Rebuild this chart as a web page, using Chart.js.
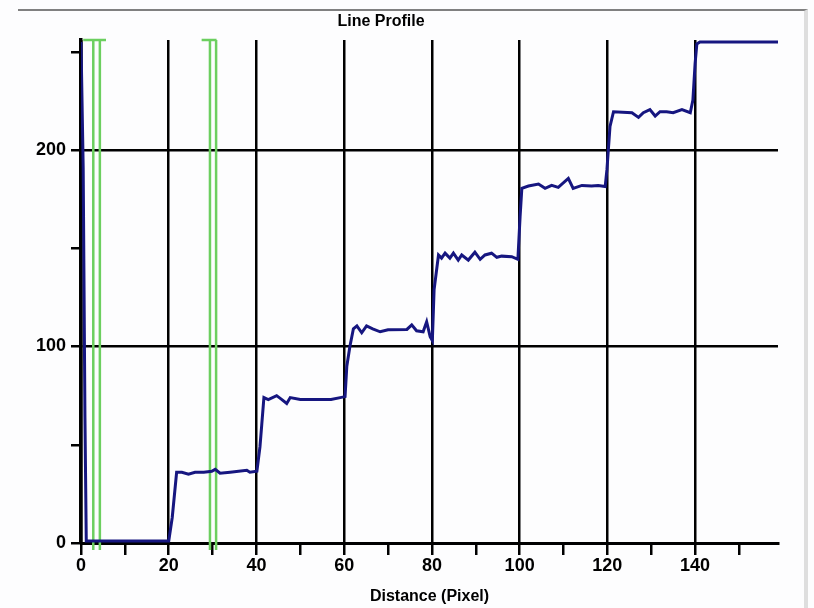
<!DOCTYPE html>
<html>
<head>
<meta charset="utf-8">
<script src="https://cdn.jsdelivr.net/npm/chart.js@4"></script>
<style>
  body { margin: 0; background: #fdfdfe; }
  #wrap { position: relative; width: 814px; height: 608px; }
  #frame { position: absolute; left: 18px; top: 9px; width: 786px; height: 599px;
           border-top: 2px solid #808080; border-right: 4px solid #dedede; }
  #title { position: absolute; left: 0; top: 13px; width: 762px; text-align: center;
           font: bold 16px "Liberation Sans", Arial, sans-serif; line-height: 16px; color: #000; }
  canvas { position: absolute; left: 0; top: 0; }
</style>
</head>
<body>
<div id="wrap">
  <div id="frame"></div>
  <canvas id="profile" width="814" height="608"></canvas>
  <div id="title">Line Profile</div>
</div>
<script>
// distance along the line (pixel) and grey value
const distance = [0, 0.5, 0.9, 1.2, 20, 20.8, 21.8, 23.0, 24.5, 26, 28, 29.8, 30.6, 31.7, 34, 37.8, 38.5,
  40.1, 40.8, 41.2, 41.7, 42.7, 44.6, 45.8, 46.9, 47.7, 50, 53.7, 57, 59.1, 60.2,
  60.6, 61.3, 62.1, 62.9, 64.0, 65.1, 66.5, 68.2, 70, 74.3, 75.4, 76.5, 78.0, 78.8, 79.6, 80.1,
  80.5, 81.5, 82.2, 83.0, 84.1, 84.9, 86.0, 86.8, 88.3, 89.8, 91.0, 92.1, 93.6, 94.8, 95.9, 98.2, 99.6,
  100.1, 100.5, 102.0, 104.3, 105.8, 107.3, 108.8, 111.1, 112.2, 114.2, 116.4, 117.9, 119.5,
  119.9, 120.6, 121.4, 125.6, 127.1, 128.2, 129.7, 130.9, 132.0, 133.5, 135.0, 137.0, 138.9,
  139.5, 140.0, 140.4, 141.1, 158.9];
const greyValue = [255, 191, 64, 1, 1, 13, 36, 36, 35, 36, 36, 36.5, 37.5, 35.5, 36, 37, 36,
  36.5, 49, 60, 74, 73, 75, 73, 71, 74, 73, 73, 73, 74, 74.5,
  90, 100, 109, 110.5, 107, 110.5, 109, 107.5, 108.5, 108.7, 111, 108, 107.5, 112.6, 105, 103,
  129, 146.6, 145, 147.5, 145, 147.5, 144, 146.6, 144, 148, 144.4, 146.6, 147.5, 145.4, 146, 145.7, 144.4,
  166, 180.5, 181.7, 182.7, 180.5, 182, 181, 185.6, 180.5, 182, 181.7, 182, 181.4,
  190, 212, 219.5, 219, 216.6, 219, 220.6, 217.3, 219.5, 219.5, 219, 220.6, 219,
  225.4, 244, 254, 255, 255];

// green cursor markers: vertical lines and the bar across their tops
const markerLines = [2.8, 4.3, 29.4, 30.8];
const markerBars = [[0.5, 5.7], [27.5, 30.9]];
const markerBottom = -3.6;
const markerTop = 256;

const profilePoints = distance.map((d, i) => ({ x: d, y: greyValue[i] }));

const markerPoints = [];
markerLines.forEach(m => {
  markerPoints.push({ x: m, y: markerBottom }, { x: m, y: markerTop }, { x: m, y: null });
});
markerBars.forEach(b => {
  markerPoints.push({ x: b[0], y: markerTop }, { x: b[1], y: markerTop }, { x: b[1], y: null });
});

const labelFont = { family: '"Liberation Sans", Arial, sans-serif', size: 18, weight: 'bold' };

const profileChart = new Chart(document.getElementById('profile'), {
  type: 'scatter',
  data: {
    datasets: [{
      label: 'Profile',
      data: profilePoints,
      showLine: true,
      borderColor: '#161680',
      borderWidth: 3,
      pointRadius: 0,
      tension: 0,
    }, {
      label: 'Cursors',
      data: markerPoints,
      showLine: true,
      spanGaps: false,
      borderColor: '#6ccf5f',
      borderWidth: 2.5,
      pointRadius: 0,
      clip: false,
    }]
  },
  options: {
    responsive: false,
    animation: false,
    devicePixelRatio: 1,
    layout: { padding: { top: 40, right: 36, left: 0, bottom: 0 } },
    plugins: {
      legend: { display: false },
      tooltip: { enabled: false },
    },
    scales: {
      x: {
        type: 'linear',
        min: 0,
        max: 158.9,
        afterFit: axis => { axis.height = 65; },
        border: { display: true, color: '#000', width: 3 },
        grid: {
          color: ctx => (ctx.tick && ctx.tick.value % 20 === 0 ? '#000' : 'rgba(0,0,0,0)'),
          lineWidth: 2.5,
          tickColor: '#000',
          tickWidth: 2.5,
          tickLength: 12,
        },
        ticks: {
          stepSize: 10,
          includeBounds: false,
          autoSkip: false,
          maxRotation: 0,
          padding: 0,
          color: '#000',
          font: labelFont,
          callback: v => (v % 20 === 0 ? v : ''),
        },
        title: {
          display: true,
          text: 'Distance (Pixel)',
          color: '#000',
          font: { family: '"Liberation Sans", Arial, sans-serif', size: 16, weight: 'bold' },
          padding: { top: 0, bottom: 2 },
        }
      },
      y: {
        min: 0,
        max: 256,
        afterFit: axis => { axis.width = 81; },
        border: { display: true, color: '#000', width: 3.5 },
        grid: {
          color: ctx => (ctx.tick && ctx.tick.value % 100 === 0 ? '#000' : 'rgba(0,0,0,0)'),
          lineWidth: 2.5,
          tickColor: '#000',
          tickWidth: 2.5,
          tickLength: 10,
        },
        ticks: {
          stepSize: 50,
          includeBounds: false,
          autoSkip: false,
          padding: 5,
          color: '#000',
          font: labelFont,
          callback: v => (v % 100 === 0 ? v : ''),
        }
      }
    }
  }
});
</script>
</body>
</html>
